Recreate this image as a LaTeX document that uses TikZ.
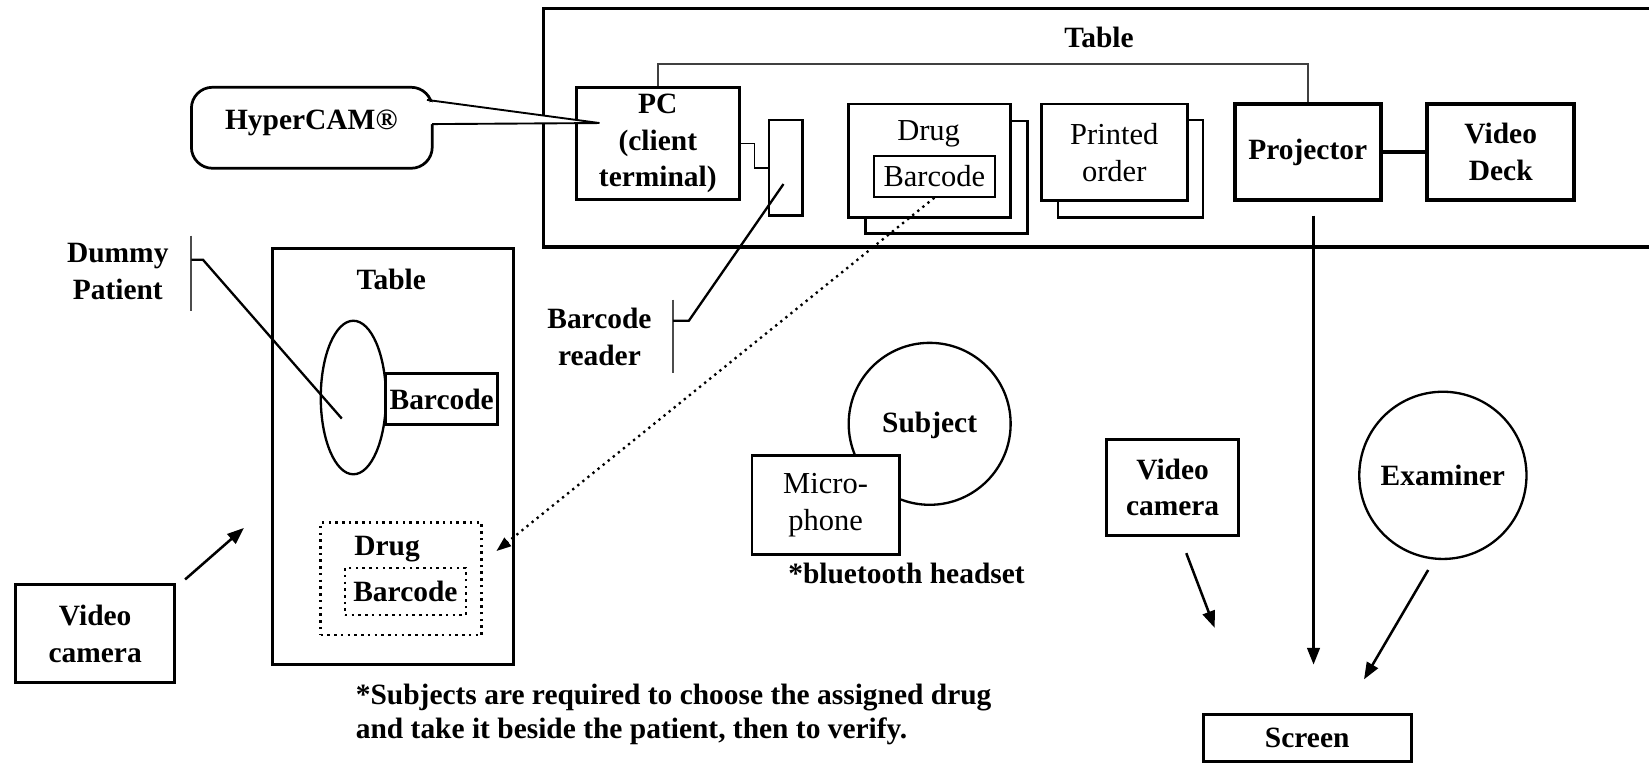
\documentclass[tikz,border=0pt]{standalone}
\usepackage{fontspec}
\setmainfont{Liberation Serif}
\usetikzlibrary{arrows.meta,shapes.geometric,fit}
\begin{document}
\begin{tikzpicture}[x=0.5pt,y=-0.5pt,
  bx/.style={draw, line width=1.4pt, fill=white, inner sep=0pt},
  rbx/.style={draw, line width=1pt, fill=white, inner sep=0pt},
  txt/.style={inner sep=0pt, align=center, font=\bfseries\fontsize{14}{17.5}\selectfont},
  rtxt/.style={inner sep=0pt, align=center, font=\fontsize{14.5}{17.5}\selectfont},
  arr/.style={line width=1.2pt, -{Triangle[length=8pt,width=6pt]}},
  thinln/.style={line width=0.9pt},
  dotbx/.style={draw, dotted, line width=1.2pt, inner sep=0pt}]
\useasboundingbox (0,0) rectangle (1568,726);

% ---------- top table ----------
\draw[line width=1.6pt] (1570,8) -- (517,8) -- (517,235) -- (1570,235);
\node[txt] (ttable) at (1045,36) {Table};

\node[bx] (pc) [fit={(548,83)(703,190)}] {};
\node[txt] (pctxt) at (pc.center) {PC\\(client\\terminal)};
\node[bx, line width=1.2pt] (reader) [fit={(731,114)(763,205)}] {};
\draw[thinln] (pc.east) -- ++(13,0) |- (reader.west);

% drug stack
\node[bx, line width=1.3pt] (drugback) [fit={(823,115)(977,222)}] {};
\node[bx, line width=1.3pt] (drug) [fit={(807,99)(961,207)}] {};
\node[rtxt] (drugtxt) at (883,127) {Drug};
\node[rbx] (dbar) [fit={(831,148)(946,187)}] {};
\node[rtxt] (dbartxt) at (dbar.center) {Barcode};

% printed order stack
\node[bx, line width=1.3pt] (printback) [fit={(1006,114)(1144,207)}] {};
\node[bx, line width=1.3pt] (printed) [fit={(990,99)(1129,191)}] {};
\node[rtxt] (printedtxt) at (printed.center) {Printed\\order};

\node[bx, line width=1.8pt] (proj) [fit={(1174,99)(1313,190)}] {};
\node[txt] (projtxt) at (proj.center) {Projector};
\node[bx, line width=1.8pt] (deck) [fit={(1357,99)(1497,190)}] {};
\node[txt] (decktxt) at (deck.center) {Video\\Deck};
\draw[line width=2.2pt] (proj) -- (deck);
\draw[thinln, black!75] (pc.north) -- ++(0,-21) -| (proj.north);

% HyperCAM callout
\node[draw, line width=1.3pt, rounded corners=10pt, inner sep=0pt] (hyper) [fit={(182,83)(411,160)}] {};
\node[txt] (hypertxt) at (296,117) {HyperCAM\textregistered};
\coordinate (htip) at (570,117);
\fill[white] (409,97) -- (htip) -- (409,118) -- cycle;
\draw[thinln] (406,95) -- (htip) -- (411,118);

% barcode reader callout
\node[txt] (readerlbl) at (570,320) {Barcode\\reader};
\coordinate (rbar1) at (640,285);
\coordinate (rbar2) at (640,355);
\draw[thinln, black!70] (rbar1) -- (rbar2);
\coordinate (rin) at (745,175);
\draw[line width=1.1pt] (rin) -- (655,305) -- (640,305);

% projector arrow to screen
\node[bx] (screen) [fit={(1144,679)(1342,724)}] {};
\node[txt] (screentxt) at (screen.center) {Screen};
\coordinate (pa) at (1249,205);
\coordinate (pb) at (1249,632);
\draw[arr] (pa) -- (pb);

% ---------- left table ----------
\node[draw, line width=1.4pt, inner sep=0pt] (ltable) [fit={(259,236)(488,632)}] {};
\node[txt] (ltlbl) at (372,266) {Table};
\node[draw, ellipse, line width=1.1pt, minimum width=31pt, minimum height=73pt, inner sep=0pt] (patient) at (336,378) {};
\node[bx] (pbar) [fit={(367,355)(473,404)}] {};
\node[txt] (pbartxt) at (pbar.center) {Barcode};

\node[txt] (dummy) at (112,258) {Dummy\\Patient};
\draw[thinln, black!70] (182,224) -- (182,296);
\coordinate (pin) at (325,398);
\draw[line width=1.1pt] (182,247) -- (193,247) -- (pin);

\node[dotbx] (ldrug) [fit={(305,497)(458,604)}] {};
\node[txt] (ldrugtxt) at (368,522) {Drug};
\node[dotbx] (ldbar) [fit={(328,540)(443,585)}] {};
\node[txt] (ldbartxt) at (ldbar.center) {Barcode};

\coordinate (dend) at (472,524);
\draw[dotted, line width=1.1pt, -{Triangle[length=7pt,width=5pt]}] (dbar.south) -- (dend);

% left video camera
\node[bx] (vcam1) [fit={(15,556)(166,649)}] {};
\node[txt] (vcam1txt) at (vcam1.center) {Video\\camera};
\coordinate (vc1a) at (176,551);
\coordinate (vc1b) at (232,502);
\draw[arr] (vc1a) -- (vc1b);

% subject
\node[draw, circle, line width=1.1pt, minimum size=77pt, inner sep=0pt] (subject) at (884,403) {};
\node[txt] (subjecttxt) at (884,405) {Subject};
\node[bx, line width=1.3pt] (mic) [fit={(715,433)(855,527)}] {};
\node[rtxt] (mictxt) at (mic.center) {Micro-\\phone};
\node[txt, anchor=north] (bt) at (862,535) {*bluetooth headset};

% right video camera
\node[bx] (vcam2) [fit={(1052,418)(1178,509)}] {};
\node[txt] (vcam2txt) at (vcam2.center) {Video\\camera};
\coordinate (vc2a) at (1128,526);
\coordinate (vc2b) at (1155,597);
\draw[arr] (vc2a) -- (vc2b);

% examiner
\node[draw, circle, line width=1.1pt, minimum size=79.5pt, inner sep=0pt] (examiner) at (1372,452) {};
\node[txt] (examinertxt) at (examiner.center) {Examiner};
\coordinate (exa) at (1358,542);
\coordinate (exb) at (1297,646);
\draw[arr] (exa) -- (exb);

% note
\node[inner sep=0pt, anchor=north west, align=left, font=\bfseries\fontsize{14}{16}\selectfont] (note) at (338,650) {*Subjects are required to choose the assigned drug\\and take it beside the patient, then to verify.};
\end{tikzpicture}
\end{document}
